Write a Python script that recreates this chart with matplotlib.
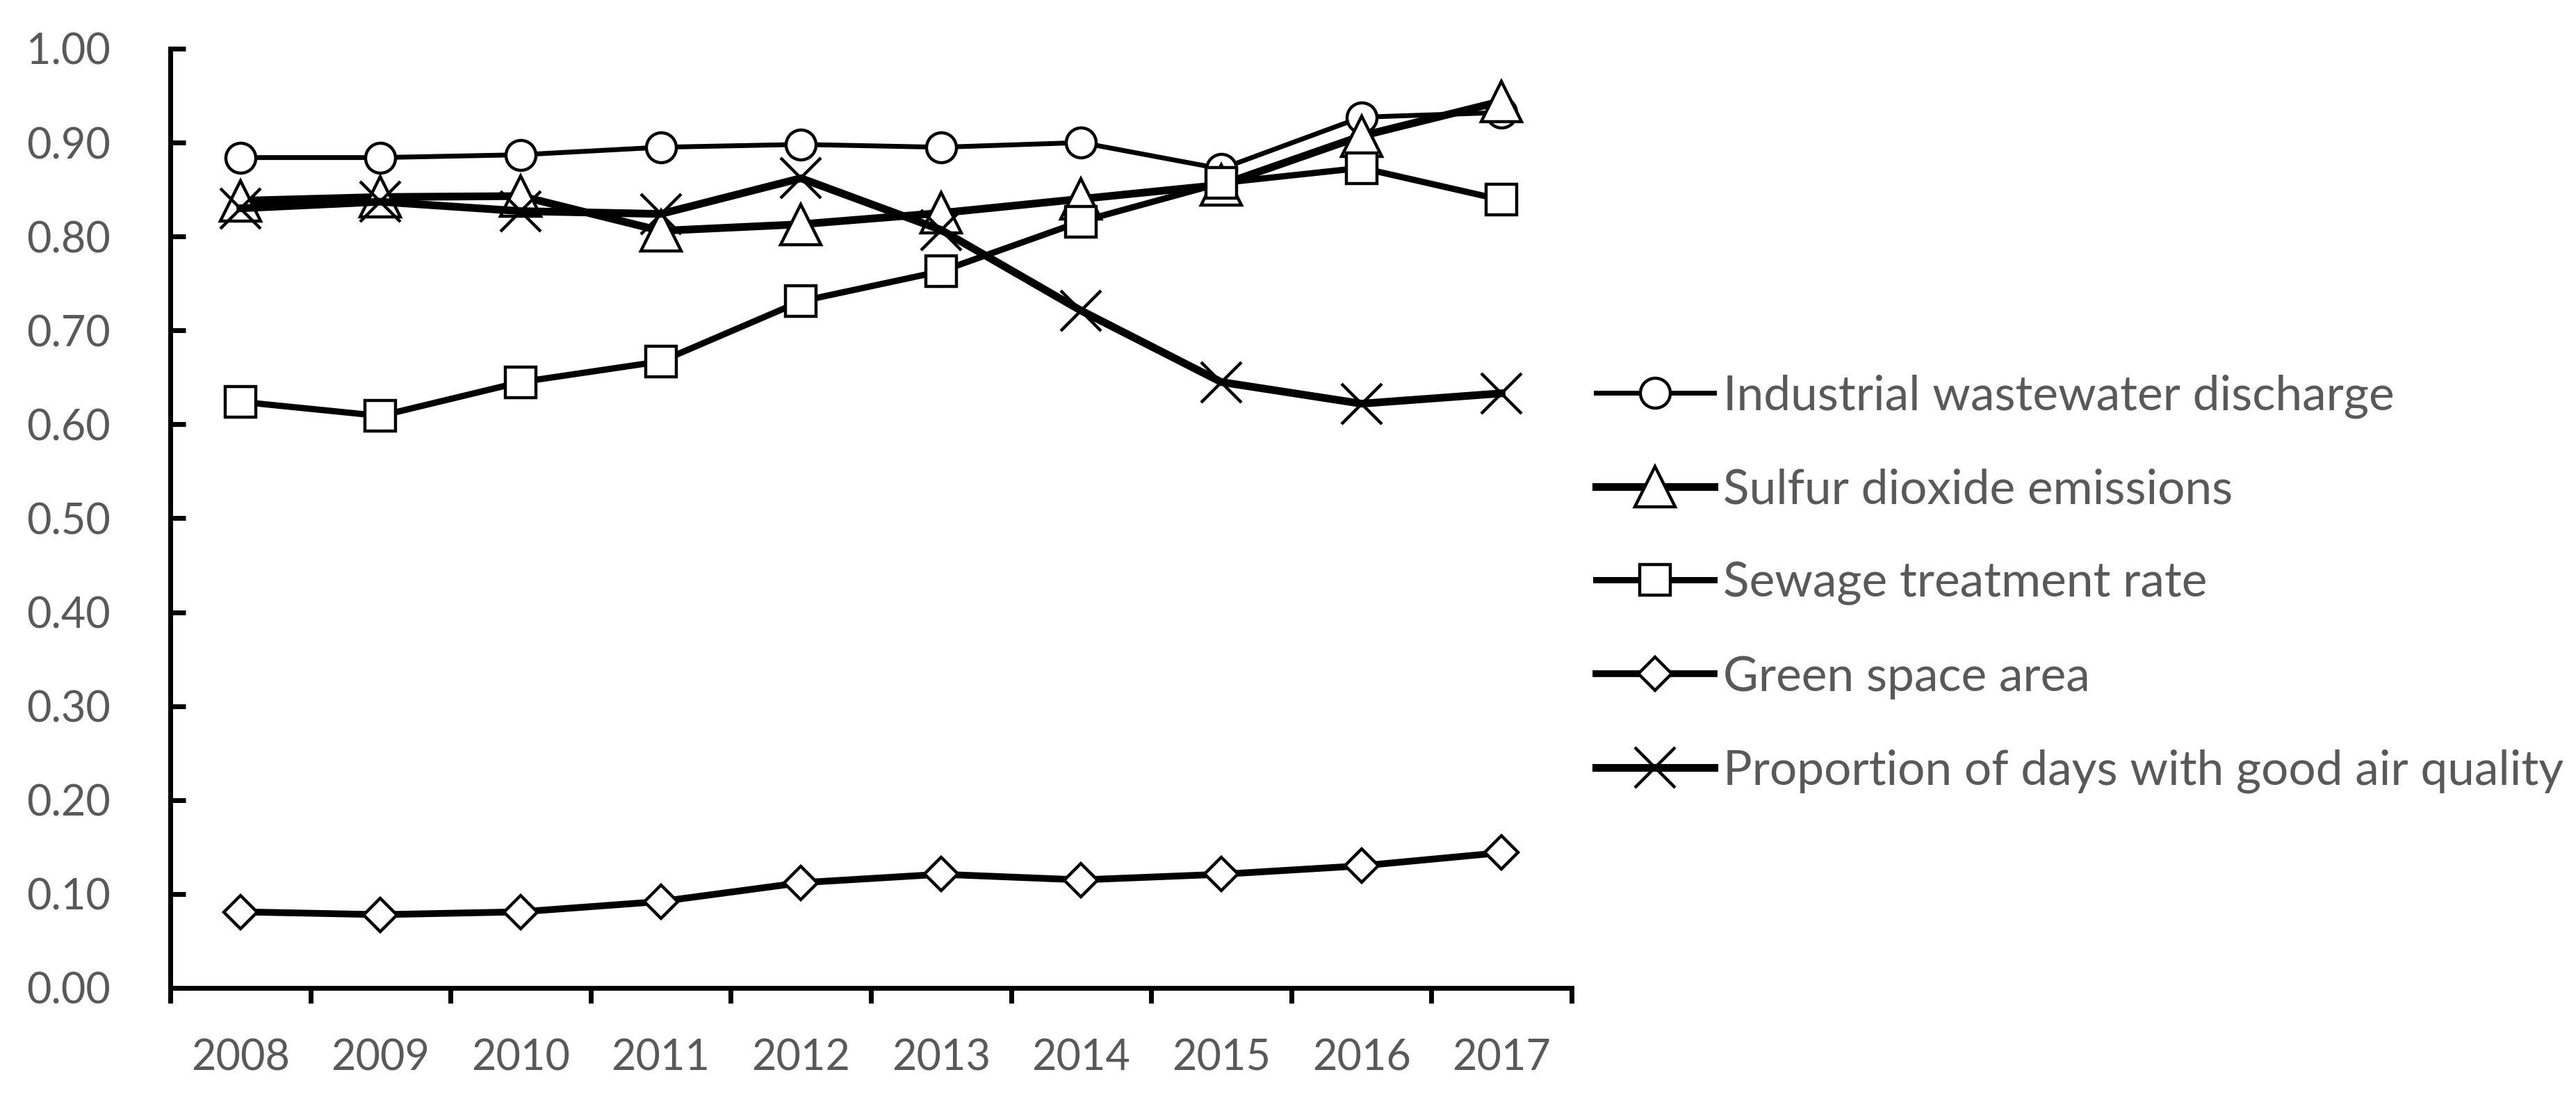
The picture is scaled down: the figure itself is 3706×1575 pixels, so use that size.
import numpy as np
import matplotlib
matplotlib.use("Agg")
import matplotlib.pyplot as plt

years = ["2008", "2009", "2010", "2011", "2012", "2013", "2014", "2015", "2016", "2017"]

industrial = [0.884, 0.884, 0.887, 0.895, 0.898, 0.895, 0.900, 0.872, 0.927, 0.932]
sulfur = [0.838, 0.842, 0.843, 0.806, 0.813, 0.825, 0.840, 0.855, 0.907, 0.944]
sewage = [0.624, 0.609, 0.645, 0.667, 0.731, 0.763, 0.816, 0.857, 0.873, 0.839]
green = [0.081, 0.078, 0.081, 0.092, 0.112, 0.121, 0.115, 0.121, 0.130, 0.144]
air = [0.830, 0.837, 0.827, 0.824, 0.862, 0.807, 0.721, 0.645, 0.622, 0.633]

labels = ["Industrial wastewater discharge", "Sulfur dioxide emissions",
          "Sewage treatment rate", "Green space area",
          "Proportion of days with good air quality"]

plt.rcParams['font.family'] = ['Lato', 'DejaVu Sans']
grey = "#595959"

fig = plt.figure(figsize=(37.06, 15.75), dpi=100)
ax = fig.add_axes([0.0661, 0.0978, 0.5440, 0.8578])

x = np.arange(len(years)) + 0.5
mew = 3.2
ax.plot(x, industrial, color="black", lw=5, marker="o", ms=31,
        mfc="white", mec="black", mew=mew, label=labels[0])
ax.plot(x, sulfur, color="black", lw=8, marker="^", ms=42,
        mfc="white", mec="black", mew=mew, label=labels[1])
ax.plot(x, sewage, color="black", lw=6.5, marker="s", ms=32,
        mfc="white", mec="black", mew=mew, label=labels[2])
ax.plot(x, green, color="black", lw=7, marker="D", ms=24,
        mfc="white", mec="black", mew=mew, label=labels[3])
ax.plot(x, air, color="black", lw=8, marker="x", ms=42,
        mec="black", mew=mew, label=labels[4])

ax.set_xlim(0, len(years))
ax.set_ylim(0, 1.0)
ax.set_yticks(np.arange(0, 1.01, 0.1))
ax.set_yticklabels([f"{v:.2f}" for v in np.arange(0, 1.01, 0.1)])
ax.set_xticks(np.arange(len(years) + 1))
ax.set_xticklabels([])
ax.set_xticks(x, minor=True)
ax.set_xticklabels(years, minor=True)

for s in ["top", "right"]:
    ax.spines[s].set_visible(False)
for s in ["left", "bottom"]:
    ax.spines[s].set_linewidth(5)

ax.tick_params(axis="y", direction="in", length=16, width=5, pad=62,
               labelsize=44, labelcolor=grey)
ax.tick_params(axis="x", which="major", direction="out", length=16, width=5)
ax.tick_params(axis="x", which="minor", length=0, pad=52,
               labelsize=44, labelcolor=grey)

leg = fig.legend(loc="center left", bbox_to_anchor=(0.6195, 0.467),
                 frameon=False, fontsize=50, handlelength=2.45,
                 handletextpad=0.18, labelspacing=1.03,
                 borderpad=0, borderaxespad=0)
for t in leg.get_texts():
    t.set_color(grey)

fig.savefig("out.png", dpi=100)
